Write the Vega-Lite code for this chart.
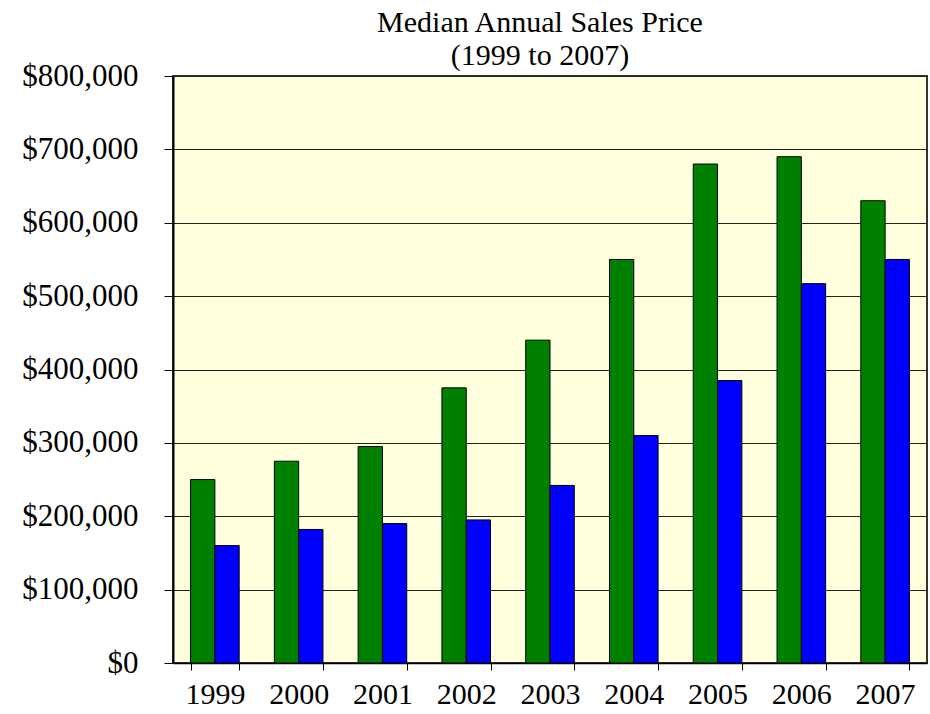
{
  "$schema": "https://vega.github.io/schema/vega-lite/v6.json",
  "width": 754,
  "height": 587,
  "autosize": {"type": "none"},
  "padding": {"left": 173, "top": 76, "right": 3, "bottom": 51},
  "background": "white",
  "title": {
    "text": ["Median Annual Sales Price", "(1999 to 2007)"],
    "font": "Liberation Serif",
    "fontSize": 30,
    "fontWeight": "normal",
    "color": "black",
    "lineHeight": 33,
    "anchor": "middle",
    "dx": -10,
    "offset": -11
  },
  "data": {
    "values": [
      {"year": "1999", "series": "A", "price": 250000},
      {"year": "1999", "series": "B", "price": 160000},
      {"year": "2000", "series": "A", "price": 275000},
      {"year": "2000", "series": "B", "price": 182000},
      {"year": "2001", "series": "A", "price": 295000},
      {"year": "2001", "series": "B", "price": 190000},
      {"year": "2002", "series": "A", "price": 375000},
      {"year": "2002", "series": "B", "price": 195000},
      {"year": "2003", "series": "A", "price": 440000},
      {"year": "2003", "series": "B", "price": 242000},
      {"year": "2004", "series": "A", "price": 550000},
      {"year": "2004", "series": "B", "price": 310000},
      {"year": "2005", "series": "A", "price": 680000},
      {"year": "2005", "series": "B", "price": 385000},
      {"year": "2006", "series": "A", "price": 690000},
      {"year": "2006", "series": "B", "price": 517000},
      {"year": "2007", "series": "A", "price": 630000},
      {"year": "2007", "series": "B", "price": 550000}
    ]
  },
  "mark": {"type": "bar", "stroke": "black", "strokeWidth": 1},
  "encoding": {
    "x": {
      "field": "year",
      "type": "nominal",
      "scale": {"paddingInner": 0.42, "paddingOuter": 0.21},
      "axis": {
        "title": null,
        "labelAngle": 0,
        "labelFont": "Liberation Serif",
        "labelFontSize": 30,
        "labelColor": "black",
        "tickSize": 7,
        "tickColor": "black",
        "tickBand": "extent",
        "domainColor": "black",
        "domainWidth": 1.5,
        "labelPadding": 9,
        "grid": false
      }
    },
    "xOffset": {"field": "series", "type": "nominal", "sort": ["A", "B"]},
    "y": {
      "field": "price",
      "type": "quantitative",
      "scale": {"domain": [0, 800000], "nice": false},
      "axis": {
        "title": null,
        "format": "$,.0f",
        "values": [0, 100000, 200000, 300000, 400000, 500000, 600000, 700000, 800000],
        "labelFont": "Liberation Serif",
        "labelFontSize": 31,
        "labelColor": "black",
        "tickSize": 9,
        "tickColor": "black",
        "labelPadding": 26,
        "grid": true,
        "gridColor": "#222222",
        "gridWidth": 1,
        "domainColor": "black",
        "domainWidth": 2
      }
    },
    "color": {
      "field": "series",
      "type": "nominal",
      "scale": {"domain": ["A", "B"], "range": ["#008000", "#0000ff"]},
      "legend": null
    }
  },
  "config": {
    "view": {"stroke": "#333333", "strokeWidth": 2, "fill": "#ffffdd"}
  }
}
